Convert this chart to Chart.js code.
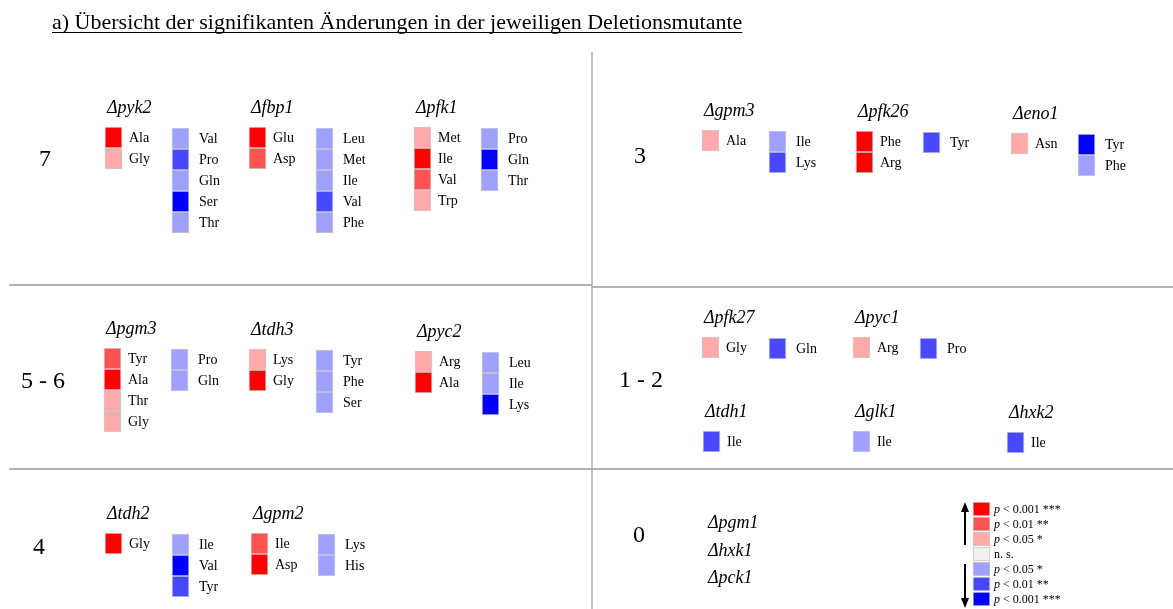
<!DOCTYPE html>
<html>
<head>
<meta charset="utf-8">
<title>Übersicht der signifikanten Änderungen</title>
<script src="https://cdn.jsdelivr.net/npm/chart.js@4/dist/chart.umd.min.js"></script>
<style>
  html, body { margin: 0; padding: 0; background: #ffffff; }
  #wrap { width: 1173px; height: 609px; position: relative; }
</style>
</head>
<body>
<div id="wrap"><canvas id="chart" width="1173" height="609"></canvas></div>
<script>
// ---------- data ----------
// significance level: +3/+2/+1 increased (p<0.001, p<0.01, p<0.05), 0 n.s., -1/-2/-3 decreased
const titleText = 'a) Übersicht der signifikanten Änderungen in der jeweiligen Deletionsmutante';
const groupLabels = ['7', '3', '5 - 6', '1 - 2', '4', '0'];

const mutantNames = ['pyk2', 'fbp1', 'pfk1', 'gpm3', 'pfk26', 'eno1', 'pgm3', 'tdh3', 'pyc2',
                     'pfk27', 'pyc1', 'tdh1', 'glk1', 'hxk2', 'tdh2', 'gpm2', 'pgm1', 'hxk1', 'pck1'];

const increased = [
  ['Ala', 'Gly'], ['Glu', 'Asp'], ['Met', 'Ile', 'Val', 'Trp'],
  ['Ala'], ['Phe', 'Arg'], ['Asn'],
  ['Tyr', 'Ala', 'Thr', 'Gly'], ['Lys', 'Gly'], ['Arg', 'Ala'],
  ['Gly'], ['Arg'], [], [], [],
  ['Gly'], ['Ile', 'Asp'],
  [], [], []
];
const increasedLevel = [
  [3, 1], [3, 2], [1, 3, 2, 1],
  [1], [3, 3], [1],
  [2, 3, 1, 1], [1, 3], [1, 3],
  [1], [1], [], [], [],
  [3], [2, 3],
  [], [], []
];
const decreased = [
  ['Val', 'Pro', 'Gln', 'Ser', 'Thr'], ['Leu', 'Met', 'Ile', 'Val', 'Phe'], ['Pro', 'Gln', 'Thr'],
  ['Ile', 'Lys'], ['Tyr'], ['Tyr', 'Phe'],
  ['Pro', 'Gln'], ['Tyr', 'Phe', 'Ser'], ['Leu', 'Ile', 'Lys'],
  ['Gln'], ['Pro'], ['Ile'], ['Ile'], ['Ile'],
  ['Ile', 'Val', 'Tyr'], ['Lys', 'His'],
  [], [], []
];
const decreasedLevel = [
  [-1, -2, -1, -3, -1], [-1, -1, -1, -2, -1], [-1, -3, -1],
  [-1, -2], [-2], [-3, -1],
  [-1, -1], [-1, -1, -1], [-1, -1, -3],
  [-2], [-2], [-2], [-1], [-2],
  [-1, -3, -2], [-1, -1],
  [], [], []
];

const legendLevels = [3, 2, 1, 0, -1, -2, -3];
const legendLabels = ['< 0.001 ***', '< 0.01 **', '< 0.05 *', 'n. s.', '< 0.05 *', '< 0.01 **', '< 0.001 ***'];

// ---------- layout & style ----------
const levelColor = { '3': '#ff0000', '2': '#ff5252', '1': '#ffaaaa', '0': '#f0f0f0',
                     '-1': '#a0a0ff', '-2': '#4848ff', '-3': '#0000ff' };
const CELL_W = 17, CELL_H = 21, COL_GAP = 67;
// top-left corner of the first cell column of every mutant panel
const panelAnchor = [
  [105, 127], [249, 127], [414, 127],
  [702, 130], [856, 131], [1011, 133],
  [104, 348], [249, 349], [415, 351],
  [702, 337], [853, 337], [703, 431], [853, 431], [1007, 432],
  [105, 533], [251, 533],
  [706, 542], [706, 570], [706, 597]
];
const groupAnchor = [[45, 160], [640, 157], [43, 382], [641, 381], [39, 548], [639, 536]];
const LEGEND_X = 973, LEGEND_Y = 502, LEGEND_STEP = 15, LEGEND_H = 14;

const SERIF = '"Liberation Serif", "Times New Roman", serif';

// ---------- build the cell bars ----------
const cells = [], cellFill = [], cellEdge = [], cellText = [];
mutantNames.forEach((name, i) => {
  const [x0, y0] = panelAnchor[i];
  increased[i].forEach((aa, k) => {
    cells.push({ x: x0 + CELL_W / 2, y: [y0 + k * CELL_H, y0 + (k + 1) * CELL_H] });
    cellFill.push(levelColor[String(increasedLevel[i][k])]);
    cellEdge.push('rgba(90,60,60,0.28)');
    cellText.push({ text: aa, dx: 24, size: 14 });
  });
  const xd = x0 + (increased[i].length ? COL_GAP : 0);
  const yd = y0 + (increased[i].length ? 1 : 0);
  decreased[i].forEach((aa, k) => {
    cells.push({ x: xd + CELL_W / 2, y: [yd + k * CELL_H, yd + (k + 1) * CELL_H] });
    cellFill.push(levelColor[String(decreasedLevel[i][k])]);
    cellEdge.push('rgba(60,60,110,0.28)');
    cellText.push({ text: aa, dx: increased[i].length ? 27 : 24, size: 14 });
  });
});
legendLevels.forEach((lv, k) => {
  const top = LEGEND_Y + k * LEGEND_STEP;
  cells.push({ x: LEGEND_X + CELL_W / 2, y: [top, top + LEGEND_H] });
  cellFill.push(levelColor[String(lv)]);
  cellEdge.push('#c8c8c8');
  cellText.push({ text: legendLabels[k], dx: 21, size: 12, italicP: lv !== 0 });
});

// ---------- drawing of text, separators and arrows ----------
const panelText = {
  id: 'panelText',
  beforeDatasetsDraw(chart) {
    const { ctx } = chart;
    const sx = chart.scales.x, sy = chart.scales.y;
    const X = v => sx.getPixelForValue(v), Y = v => sy.getPixelForValue(v);
    ctx.save();
    // quadrant separators
    ctx.strokeStyle = '#c4c4c4';
    ctx.lineWidth = 2;
    ctx.beginPath(); ctx.moveTo(X(592), Y(52)); ctx.lineTo(X(592), Y(609)); ctx.stroke();
    ctx.strokeStyle = '#9a9a9a';
    ctx.lineWidth = 1.3;
    ctx.beginPath(); ctx.moveTo(X(9), Y(285)); ctx.lineTo(X(592), Y(285)); ctx.stroke();
    ctx.beginPath(); ctx.moveTo(X(592), Y(287)); ctx.lineTo(X(1173), Y(287)); ctx.stroke();
    ctx.beginPath(); ctx.moveTo(X(9), Y(469)); ctx.lineTo(X(1173), Y(469)); ctx.stroke();
    ctx.restore();
  },
  afterDatasetsDraw(chart) {
    const { ctx } = chart;
    const sx = chart.scales.x, sy = chart.scales.y;
    const X = v => sx.getPixelForValue(v), Y = v => sy.getPixelForValue(v);
    ctx.save();
    ctx.fillStyle = '#000';

    // heading, underlined
    ctx.font = '22px ' + SERIF;
    ctx.textBaseline = 'alphabetic';
    ctx.textAlign = 'left';
    ctx.fillText(titleText, X(52), Y(29));
    const tw = ctx.measureText(titleText).width;
    ctx.fillRect(X(52), Y(32), tw, 1);

    // number of significant changes per block
    ctx.font = '24px ' + SERIF;
    ctx.textAlign = 'center';
    ctx.textBaseline = 'middle';
    groupLabels.forEach((g, i) => ctx.fillText(g, X(groupAnchor[i][0]), Y(groupAnchor[i][1])));

    // mutant names
    ctx.textAlign = 'left';
    ctx.textBaseline = 'alphabetic';
    ctx.font = 'italic 18px ' + SERIF;
    mutantNames.forEach((n, i) => {
      const [x0, y0] = panelAnchor[i];
      ctx.fillText('\u0394' + n, X(x0 + 2), Y(y0 - 14));
    });

    // amino acid and legend labels, placed next to their bars
    const bars = chart.getDatasetMeta(0).data;
    ctx.textBaseline = 'middle';
    bars.forEach((bar, j) => {
      const t = cellText[j];
      const left = bar.x - CELL_W / 2 + t.dx;
      const cy = (bar.y + bar.base) / 2 + 1;
      if (t.italicP) {
        ctx.font = 'italic ' + t.size + 'px ' + SERIF;
        ctx.fillText('p', left, cy);
        const w = ctx.measureText('p ').width;
        ctx.font = t.size + 'px ' + SERIF;
        ctx.fillText(t.text, left + w, cy);
      } else {
        ctx.font = t.size + 'px ' + SERIF;
        ctx.fillText(t.text, left, cy);
      }
    });

    // direction arrows beside the legend
    ctx.strokeStyle = '#000';
    ctx.lineWidth = 2;
    const ax = X(965);
    ctx.beginPath(); ctx.moveTo(ax, Y(545)); ctx.lineTo(ax, Y(510)); ctx.stroke();
    ctx.beginPath(); ctx.moveTo(ax, Y(502)); ctx.lineTo(ax - 4, Y(512)); ctx.lineTo(ax + 4, Y(512)); ctx.closePath(); ctx.fill();
    ctx.beginPath(); ctx.moveTo(ax, Y(564)); ctx.lineTo(ax, Y(599)); ctx.stroke();
    ctx.beginPath(); ctx.moveTo(ax, Y(608)); ctx.lineTo(ax - 4, Y(598)); ctx.lineTo(ax + 4, Y(598)); ctx.closePath(); ctx.fill();
    ctx.restore();
  }
};

new Chart(document.getElementById('chart'), {
  type: 'bar',
  data: {
    datasets: [{
      data: cells,
      backgroundColor: cellFill,
      borderColor: cellEdge,
      borderWidth: 1,
      borderSkipped: false,
      barThickness: CELL_W,
      grouped: false
    }]
  },
  options: {
    responsive: false,
    animation: false,
    devicePixelRatio: 1,
    layout: { padding: 0 },
    plugins: { legend: { display: false }, tooltip: { enabled: false }, title: { display: false } },
    scales: {
      x: { type: 'linear', min: 0, max: 1173, offset: false, display: false },
      y: { type: 'linear', min: 0, max: 609, reverse: true, display: false }
    }
  },
  plugins: [panelText]
});
</script>
</body>
</html>
